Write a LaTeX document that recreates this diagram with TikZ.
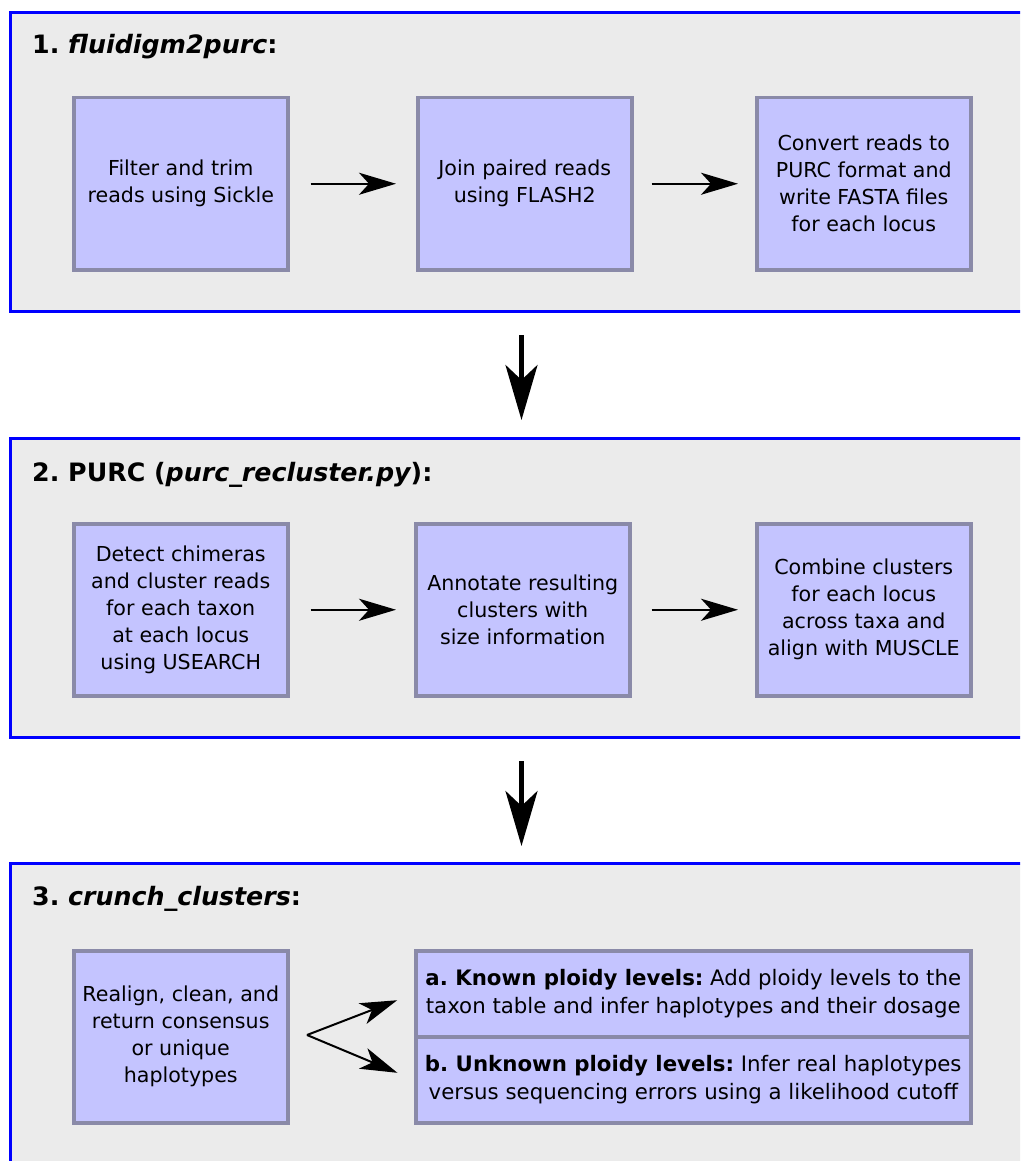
\documentclass[tikz,border=0pt]{standalone}
\usepackage{fontspec}
\setmainfont{DejaVu Sans}
\usetikzlibrary{arrows.meta,calc}
\definecolor{panelfill}{RGB}{235,235,235}
\definecolor{panelline}{RGB}{0,0,255}
\definecolor{boxfill}{RGB}{196,196,255}
\definecolor{boxline}{RGB}{138,138,168}
\frenchspacing
\begin{document}
\begin{tikzpicture}[x=1pt,y=-1pt,
  panel/.style={draw=panelline, fill=panelfill, line width=3pt, rectangle, anchor=north west,
    minimum width=1022pt, minimum height=299pt, inner sep=0pt},
  ptitle/.style={anchor=base west, inner sep=0pt, font=\fontsize{25.3}{30}\selectfont\bfseries},
  stepbox/.style={draw=boxline, fill=boxfill, line width=3.5pt, rectangle, anchor=north west,
    minimum width=214pt, minimum height=172pt, inner sep=0pt, align=center,
    font=\fontsize{20.6}{27}\selectfont},
  widebox/.style={stepbox, minimum width=555pt, minimum height=86pt,
    font=\fontsize{21.3}{27.5}\selectfont},
  flow/.style={-{Stealth[length=37pt,width=22pt,inset=10pt]}, line width=2.4pt},
  bigflow/.style={-{Stealth[length=55pt,width=32pt,inset=15pt]}, line width=4.5pt},
]
\useasboundingbox (0,0) rectangle (1020,1161);
\clip (0,0) rectangle (1020,1161);
\fill[white] (0,0) rectangle (1020,1161);

% Panel 1
\node[panel] (p1) at (9,11) {};
\node[ptitle] (t1) at (32,54) {1. \itshape fluidigm2purc\upshape:};
\node[stepbox] (a1) at (72,96) {Filter and trim\\reads using Sickle};
\node[stepbox] (a2) at (416,96) {Join paired reads\\using FLASH2};
\node[stepbox] (a3) at (755,96) {Convert reads to\\PURC format and\\write FASTA files\\for each locus};
\draw[flow, shorten <=21pt, shorten >=20pt] (a1.east) -- (a2.west);
\draw[flow, shorten <=18pt, shorten >=17pt] (a2.east) -- (a3.west);

% Panel 2
\node[panel] (p2) at (9,437) {};
\node[ptitle] (t2) at (32,481) {2. PURC (\itshape purc\_recluster.py\upshape):};
\node[stepbox] (b1) at (72,522) {Detect chimeras\\and cluster reads\\for each taxon\\at each locus\\using USEARCH};
\node[stepbox] (b2) at (414,522) {Annotate resulting\\clusters with\\size information};
\node[stepbox] (b3) at (755,522) {Combine clusters\\for each locus\\across taxa and\\align with MUSCLE};
\draw[flow, shorten <=21pt, shorten >=18pt] (b1.east) -- (b2.west);
\draw[flow, shorten <=20pt, shorten >=17pt] (b2.east) -- (b3.west);

% Panel 3
\node[panel] (p3) at (9,862) {};
\node[ptitle] (t3) at (32,905) {3. \itshape crunch\_clusters\upshape:};
\node[stepbox] (c1) at (72,949) {Realign, clean, and\\return consensus\\or unique\\haplotypes};
\node[widebox] (ca) at (414,949) {\textbf{a. Known ploidy levels:} Add ploidy levels to the\\taxon table and infer haplotypes and their dosage};
\node[widebox] (cb) at (414,1035) {\textbf{b. Unknown ploidy levels:} Infer real haplotypes\\versus sequencing errors using a likelihood cutoff};
\coordinate (fork) at (307,1035);
\draw[flow, line width=2pt, shorten >=18pt] (fork) -- (ca.west);
\draw[flow, line width=2pt, shorten >=18pt] (fork) -- (cb.west);

% Between panels
\draw[bigflow, shorten <=22pt, shorten >=17pt] (p1.south) -- (p2.north);
\draw[bigflow, shorten <=22pt, shorten >=16pt] (p2.south) -- (p3.north);
\end{tikzpicture}
\end{document}
